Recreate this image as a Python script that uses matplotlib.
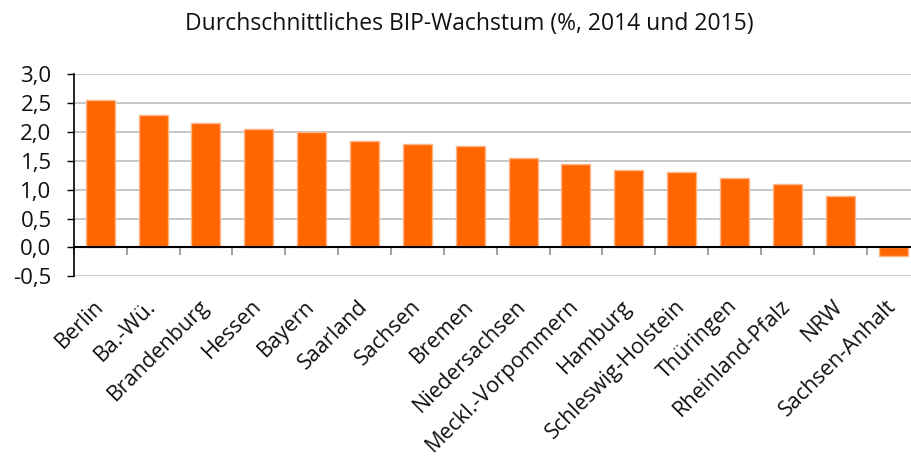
import matplotlib
matplotlib.use("Agg")
import matplotlib.pyplot as plt
import numpy as np
from matplotlib.ticker import FixedLocator, FuncFormatter

categories = ["Berlin", "Ba.-Wü.", "Brandenburg", "Hessen", "Bayern", "Saarland",
              "Sachsen", "Bremen", "Niedersachsen", "Meckl.-Vorpommern", "Hamburg",
              "Schleswig-Holstein", "Thüringen", "Rheinland-Pfalz", "NRW", "Sachsen-Anhalt"]
values = [2.55, 2.3, 2.15, 2.05, 2.0, 1.85, 1.8, 1.75, 1.55, 1.45, 1.35, 1.3, 1.2, 1.1, 0.9, -0.15]
yticks = [-0.5, 0.0, 0.5, 1.0, 1.5, 2.0, 2.5, 3.0]
title = "Durchschnittliches BIP-Wachstum (%, 2014 und 2015)"

plt.rcParams['font.family'] = ['Open Sans', 'DejaVu Sans']

fig = plt.figure(figsize=(9.12, 4.61), dpi=100)
ax = fig.add_axes([73.8/912, 1-276.3/461, (919.5-73.8)/912, (276.3-74.3)/461])

x = np.arange(len(categories))
ax.bar(x, values, width=0.55, color='#FF6600', edgecolor='#FFB585', linewidth=1, zorder=3)

ax.set_xlim(-0.5, len(categories)-0.5)
ax.set_ylim(-0.5, 3.0)
ax.yaxis.set_major_locator(FixedLocator(yticks))
ax.yaxis.set_major_formatter(FuncFormatter(lambda v, p: f"{v:.1f}".replace('.', ',')))
ax.grid(axis='y', color='#BEBEBE', linewidth=1.2, zorder=0)
ax.set_axisbelow(True)

for s in ['top', 'right']:
    ax.spines[s].set_visible(False)
ax.spines['left'].set_color('black')
ax.spines['left'].set_linewidth(1.2)
ax.spines['bottom'].set_position(('data', 0))
ax.spines['bottom'].set_color('black')
ax.spines['bottom'].set_linewidth(1.5)
ax.spines['bottom'].set_zorder(4)

ax.tick_params(axis='y', direction='out', length=5, width=1, color='black',
               labelsize=16, pad=11, labelcolor='#111111')
ax.set_xticks(x)
ax.set_xticklabels(categories, rotation=45, ha='right', va='center',
                   rotation_mode='anchor', fontsize=15.5, color='#111111')
ax.tick_params(axis='x', which='major', length=0, pad=40)
ax.set_xticks(np.arange(-0.5, len(categories)), minor=True)
ax.tick_params(axis='x', which='minor', direction='out', length=6, width=1.2, color='#909090')

fig.text(469.5/912, 1-24/461, title, ha='center', va='center', fontsize=16.5, color='#111111')

fig.savefig("out.png", dpi=100)
